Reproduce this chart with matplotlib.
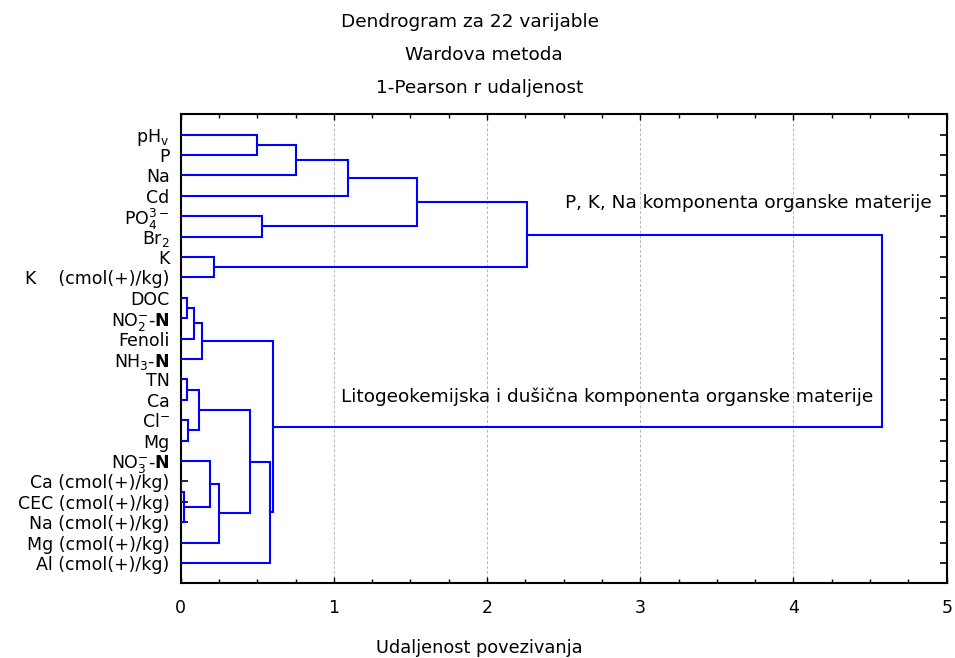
import matplotlib
matplotlib.use("Agg")
import matplotlib.pyplot as plt
from matplotlib.ticker import MultipleLocator, FixedLocator

plt.rcParams['font.family'] = ['DejaVu Sans']
plt.rcParams['mathtext.fontset'] = 'dejavusans'

# ---- data ----
leaf_labels = [
    r'pH$_\mathregular{v}$', 'P', 'Na', 'Cd',
    r'PO$_\mathregular{4}^\mathregular{3-}$', r'Br$_\mathregular{2}$', 'K',
    'K    (cmol(+)/kg)', 'DOC',
    r'NO$_\mathregular{2}^\mathregular{-}$-$\mathbf{N}$', 'Fenoli',
    r'NH$_\mathregular{3}$-$\mathbf{N}$', 'TN', 'Ca', r'Cl$^\mathregular{-}$', 'Mg',
    r'NO$_\mathregular{3}^\mathregular{-}$-$\mathbf{N}$',
    'Ca (cmol(+)/kg)', 'CEC (cmol(+)/kg)', 'Na (cmol(+)/kg)',
    'Mg (cmol(+)/kg)', 'Al (cmol(+)/kg)',
]
# merges: (child a, child b, linkage distance); new node ids start at 22
merge_a = [17, 22, 8, 12, 14, 24, 25, 27, 16, 6, 30, 28, 0, 4, 33, 29, 34, 38, 39, 40, 41]
merge_b = [18, 19, 9, 13, 15, 10, 26, 11, 23, 7, 20, 32, 1, 5, 21, 36, 2, 3, 35, 31, 37]
merge_h = [0.005, 0.02, 0.04, 0.04, 0.05, 0.09, 0.12, 0.14, 0.19, 0.22, 0.25,
           0.45, 0.50, 0.53, 0.58, 0.60, 0.75, 1.09, 1.54, 2.26, 4.58]

titles = ['Dendrogram za 22 varijable', 'Wardova metoda', '1-Pearson r udaljenost']
xlabel = 'Udaljenost povezivanja'
note_top = 'P, K, Na komponenta organske materije'
note_bottom = 'Litogeokemijska i dušična komponenta organske materije'

# ---- figure ----
fig = plt.figure(figsize=(9.55, 6.58), dpi=100)
ax = fig.add_axes([0.1892, 0.1135, 0.9913 - 0.1892, 0.8263 - 0.1135])

n = len(leaf_labels)
pos = {i: float(i) for i in range(n)}
hgt = {i: 0.0 for i in range(n)}
node = n
for a, b, h in zip(merge_a, merge_b, merge_h):
    ax.plot([hgt[a], h, h, hgt[b]], [pos[a], pos[a], pos[b], pos[b]],
            color='#0000ff', lw=1.5, solid_joinstyle='miter', zorder=3)
    pos[node] = (pos[a] + pos[b]) / 2
    hgt[node] = h
    node += 1

ax.set_xlim(0, 5)
ax.set_ylim(n, -1)
ax.xaxis.set_major_locator(MultipleLocator(1))
ax.xaxis.set_minor_locator(MultipleLocator(0.25))
ax.yaxis.set_major_locator(FixedLocator(list(range(n))))
ax.set_yticklabels(leaf_labels)

ax.tick_params(axis='both', which='both', direction='in', top=True, right=True,
               labelsize=12.5, colors='black')
ax.tick_params(axis='x', which='major', length=4, width=1, pad=11)
ax.tick_params(axis='x', which='minor', length=3, width=1)
ax.tick_params(axis='y', which='major', length=5, width=1.2, pad=8)
for s in ax.spines.values():
    s.set_linewidth(1.5)

ax.grid(axis='x', which='major', color='#b8b8b8', lw=0.7, ls=(0, (3, 2)), zorder=0)
ax.set_xlabel(xlabel, fontsize=12.8)
ax.xaxis.set_label_coords((479 - 180.7) / 766, (583.3 - 648) / 469)
ax.xaxis.label.set_va('center')

ax.text(4.90, 3.33, note_top, ha='right', va='center', fontsize=13.3)
ax.text(1.046, 12.84, note_bottom, ha='left', va='center', fontsize=13.3)

for t, xpx, ypx in zip(titles, [470, 484, 480], [22, 55, 88]):
    fig.text(xpx / 955, 1 - ypx / 658, t, ha='center', va='center', fontsize=13.3)

fig.savefig('out.png', dpi=100)
